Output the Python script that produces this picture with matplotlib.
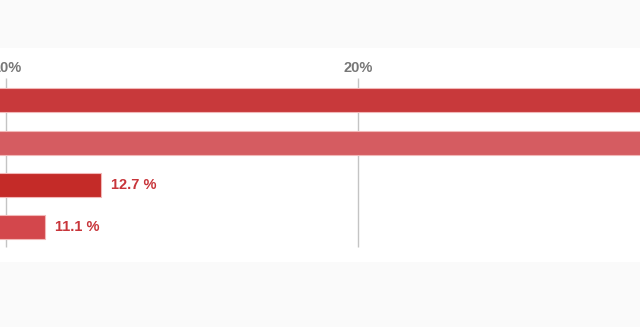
import matplotlib

matplotlib.use("Agg")
import matplotlib.pyplot as plt

# values in percent, top to bottom (first two run past the visible window)
values = [30.5, 29.0, 12.7, 11.1]
labels = ["30.5 %", "29.0 %", "12.7 %", "11.1 %"]
colors = ["#c8393b", "#d55c61", "#c42b28", "#d3474c"]
ticks = [10, 20]
tick_labels = ["10%", "20%"]

plt.rcParams["font.family"] = ["Liberation Sans", "DejaVu Sans"]

fig = plt.figure(figsize=(6.4, 3.27), dpi=100, facecolor="#fafafa")
ax = fig.add_axes([0, 1 - 262 / 327, 1, 214 / 327])
ax.set_facecolor("white")

ypos = list(range(len(values)))
ax.barh(ypos, values, height=0.57, color=colors, edgecolor="#f2b8b8", linewidth=0.8, zorder=2)

for y, v, lab in zip(ypos, values, labels):
    ax.text(v + 0.28, y, lab, va="center", ha="left", fontsize=10.5,
            fontweight="bold", color="#c8353a", zorder=3)

for t, tl in zip(ticks, tick_labels):
    ax.vlines(t, -0.52, 3.47, color="#c4c4c4", linewidth=1, zorder=1)
    ax.text(t, -0.76, tl, ha="center", va="center", fontsize=10.5,
            fontweight="bold", color="#777777")

ax.set_xlim(9.82, 28.0)
ax.set_ylim(3.823, -1.236)
ax.set_xticks([])
ax.set_yticks([])
for s in ax.spines.values():
    s.set_visible(False)

fig.savefig("out.png", dpi=100, facecolor=fig.get_facecolor())
